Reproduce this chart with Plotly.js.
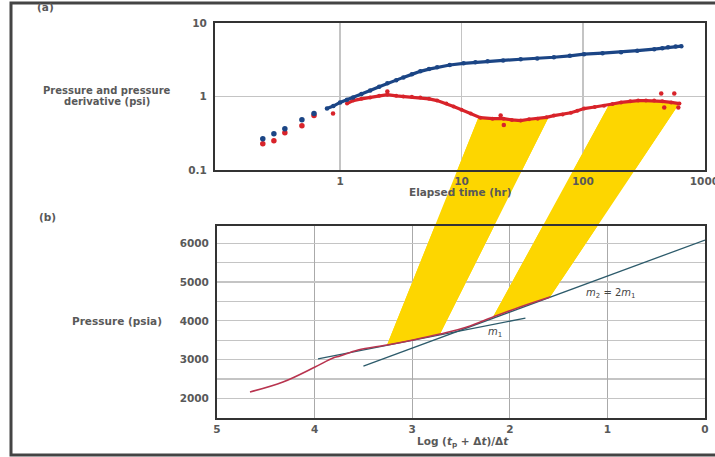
<!DOCTYPE html>
<html>
<head>
<meta charset="utf-8">
<script src="https://cdn.plot.ly/plotly-3.0.1.min.js"></script>
<style>html,body{margin:0;padding:0;background:#fff;}#chart{width:715px;height:457px;}</style>
</head>
<body>
<div id="chart"></div>
<script>
// ---------- DATA ----------
// (a) log-log diagnostic plot
const earlyTime = [0.231, 0.285, 0.351, 0.485, 0.61];
const earlyPressure = [0.266, 0.311, 0.365, 0.484, 0.585];
const earlyDerivative = [0.227, 0.25, 0.32, 0.40, 0.55];

const pressureTime = [0.78, 0.88, 1.0, 1.14, 1.28, 1.5, 1.77, 2.1, 2.45, 2.9, 3.32, 3.9, 4.58, 5.4, 6.3, 8.0, 10.4, 13, 16.4, 22, 30.7, 42, 57.6, 78, 102, 145, 206, 280, 386, 450, 502, 580, 646];
const pressureValue = [0.685, 0.74, 0.83, 0.9, 0.97, 1.08, 1.21, 1.36, 1.51, 1.67, 1.82, 2.0, 2.2, 2.36, 2.5, 2.68, 2.83, 2.93, 3.01, 3.1, 3.21, 3.3, 3.42, 3.58, 3.76, 3.88, 4.01, 4.2, 4.4, 4.55, 4.69, 4.8, 4.84];

const derivTime = [1.14, 1.28, 1.5, 1.77, 2.1, 2.45, 2.9, 3.32, 3.9, 4.58, 5.4, 6.3, 7.5, 8.6, 10, 11.9, 14.3, 18, 22.2, 26, 30.7, 36, 42.4, 50, 57.6, 68, 79.6, 90, 102, 125, 149, 175, 206, 245, 285, 330, 386, 450, 533, 623];
const derivValue = [0.80, 0.88, 0.93, 0.97, 1.02, 1.06, 1.02, 1.0, 0.99, 0.97, 0.93, 0.88, 0.80, 0.73, 0.66, 0.585, 0.515, 0.50, 0.50, 0.48, 0.47, 0.49, 0.50, 0.52, 0.55, 0.57, 0.60, 0.64, 0.685, 0.72, 0.75, 0.79, 0.83, 0.86, 0.88, 0.88, 0.88, 0.86, 0.83, 0.80];

const derivOutlierTime = [0.875, 2.45, 21, 22.3, 441, 565, 467, 610];
const derivOutlierValue = [0.585, 1.17, 0.55, 0.41, 1.1, 1.1, 0.707, 0.707];

// (b) Horner plot
const hornerX = [4.662, 4.324, 3.996, 3.811, 3.740, 3.555, 3.258, 2.992, 2.715, 2.439, 2.172, 1.895, 1.588];
const hornerP = [2163, 2421, 2808, 3040, 3092, 3246, 3375, 3505, 3659, 3840, 4098, 4356, 4614];
const m1X = [3.965, 1.84];
const m1P = [3017, 4072];
const m2X = [3.5, 0];
const m2P = [2830, 6085];

// band links (top: elapsed time range on derivative; bottom: Horner range)
const band1TopTime = [13.8, 52.4];
const band1TopDeriv = [0.52, 0.53];
const band1BottomX = [3.258, 2.715];
const band1BottomP = [3375, 3659];
const band2TopTime = [164, 621];
const band2TopDeriv = [0.77, 0.80];
const band2BottomX = [2.172, 1.588];
const band2BottomP = [4098, 4614];

// ticks
const topXTicks = [1, 10, 100, 1000];
const topXTickText = ['1', '10', '100', '1000'];
const topYTicks = [0.1, 1, 10];
const topYTickText = ['0.1', '1', '10'];
const botXTicks = [5, 4, 3, 2, 1, 0];
const botXTickText = ['5', '4', '3', '2', '1', '0'];
const botYTicks = [2000, 3000, 4000, 5000, 6000];
const botYTickText = ['2000', '3000', '4000', '5000', '6000'];

// ---------- STYLE ----------
const W = 715, H = 457;
const FONT = 'DejaVu Sans';
const txt = {family: FONT, size: 10.5, color: '#595959', weight: 'bold'};
const BLUE = '#1b4585', RED = '#d8232a', HRED = '#b8344f', LINE = '#2d5b6b', YEL = '#fdd600';

const xTop = {type: 'log', domain: [215 / W, 705 / W], range: [-1.03, 3.005], anchor: 'y',
  tickvals: topXTicks, ticktext: topXTickText, ticks: '', showgrid: true, gridcolor: '#c4c4c4', gridwidth: 1.2,
  showline: true, linecolor: '#333', linewidth: 2, mirror: true, zeroline: false, tickfont: txt, ticklabeloverflow: 'allow'};
const yTop = {type: 'log', domain: [1 - 170 / H, 1 - 23 / H], range: [-1, 1], anchor: 'x',
  tickvals: topYTicks, ticktext: topYTickText, ticks: '', showgrid: true, gridcolor: '#c4c4c4', gridwidth: 1.2,
  showline: true, linecolor: '#333', linewidth: 2, mirror: true, zeroline: false, tickfont: txt, ticklabelstandoff: 4};
const xBot = {domain: [217 / W, 705 / W], range: [5, 0], anchor: 'y2', autorange: false,
  tickvals: botXTicks, ticktext: botXTickText, ticks: '', showgrid: true, gridcolor: '#aaa', gridwidth: 1.2,
  showline: true, linecolor: '#333', linewidth: 2, mirror: true, zeroline: false, tickfont: txt, ticklabeloverflow: 'allow'};
const yBot = {domain: [1 - 418 / H, 1 - 226 / H], range: [1492, 6447], anchor: 'x2',
  tickvals: botYTicks, ticktext: botYTickText, ticks: '', showgrid: true, gridcolor: '#c4c4c4', gridwidth: 1.2,
  minor: {dtick: 500, tick0: 0, showgrid: true, gridcolor: '#c4c4c4', gridwidth: 1.2, ticks: ''},
  showline: true, linecolor: '#333', linewidth: 2, mirror: true, zeroline: false, tickfont: txt, ticklabelstandoff: 4};

function toPx(ax, v, isY) {
  const l = ax.type === 'log' ? Math.log10(v) : v;
  const f = (l - ax.range[0]) / (ax.range[1] - ax.range[0]);
  const p = ax.domain[0] + f * (ax.domain[1] - ax.domain[0]);
  return isY ? H * (1 - p) : W * p;
}
function fromPx(ax, px, isY) {
  const p = isY ? 1 - px / H : px / W;
  const f = (p - ax.domain[0]) / (ax.domain[1] - ax.domain[0]);
  const l = ax.range[0] + f * (ax.range[1] - ax.range[0]);
  return ax.type === 'log' ? Math.pow(10, l) : l;
}

function bandPolygon(topT, topP, botX, botP) {
  const pts = [];
  pts.push([toPx(xTop, topT[0]), toPx(yTop, topP[0], true)]);
  for (let i = 0; i < derivTime.length; i++) {
    if (derivTime[i] > topT[0] && derivTime[i] < topT[1]) pts.push([toPx(xTop, derivTime[i]), toPx(yTop, derivValue[i], true)]);
  }
  pts.push([toPx(xTop, topT[1]), toPx(yTop, topP[1], true)]);
  pts.push([toPx(xBot, botX[1]), toPx(yBot, botP[1], true)]);
  for (let i = 0; i < hornerX.length; i++) {
    if (hornerX[i] > botX[1] && hornerX[i] < botX[0]) pts.push([toPx(xBot, hornerX[i]), toPx(yBot, hornerP[i], true)]);
  }
  pts.push([toPx(xBot, botX[0]), toPx(yBot, botP[0], true)]);
  return pts;
}
const bands = [bandPolygon(band1TopTime, band1TopDeriv, band1BottomX, band1BottomP),
               bandPolygon(band2TopTime, band2TopDeriv, band2BottomX, band2BottomP)];

const traces = [];
const shapes = [];
bands.forEach(poly => {
  shapes.push({type: 'path', xref: 'paper', yref: 'paper', layer: 'below', fillcolor: YEL, line: {width: 0},
    path: 'M' + poly.map(p => (p[0] / W).toFixed(5) + ',' + (1 - p[1] / H).toFixed(5)).join('L') + 'Z'});
  traces.push({x: poly.map(p => fromPx(xTop, p[0])), y: poly.map(p => fromPx(yTop, p[1], true)), xaxis: 'x', yaxis: 'y',
    mode: 'lines', line: {width: 0}, fill: 'toself', fillcolor: YEL, hoverinfo: 'skip'});
  traces.push({x: poly.map(p => fromPx(xBot, p[0])), y: poly.map(p => fromPx(yBot, p[1], true)), xaxis: 'x2', yaxis: 'y2',
    mode: 'lines', line: {width: 0}, fill: 'toself', fillcolor: YEL, hoverinfo: 'skip'});
});

// top panel data
traces.push({x: earlyTime, y: earlyDerivative, xaxis: 'x', yaxis: 'y', mode: 'markers', marker: {color: RED, size: 5.5}});
traces.push({x: earlyTime, y: earlyPressure, xaxis: 'x', yaxis: 'y', mode: 'markers', marker: {color: BLUE, size: 5.5}});
traces.push({x: derivTime, y: derivValue, xaxis: 'x', yaxis: 'y', mode: 'lines+markers', line: {color: RED, width: 3.2}, marker: {color: RED, size: 4}});
traces.push({x: derivOutlierTime, y: derivOutlierValue, xaxis: 'x', yaxis: 'y', mode: 'markers', marker: {color: RED, size: 4.5}});
traces.push({x: pressureTime, y: pressureValue, xaxis: 'x', yaxis: 'y', mode: 'lines+markers', line: {color: BLUE, width: 3.2}, marker: {color: BLUE, size: 4.5}});

// bottom panel data
traces.push({x: m1X, y: m1P, xaxis: 'x2', yaxis: 'y2', mode: 'lines', line: {color: LINE, width: 1.3}});
traces.push({x: m2X, y: m2P, xaxis: 'x2', yaxis: 'y2', mode: 'lines', line: {color: LINE, width: 1.3}});
traces.push({x: hornerX, y: hornerP, xaxis: 'x2', yaxis: 'y2', mode: 'lines', line: {color: HRED, width: 1.6, shape: 'spline'}});

// frame
shapes.push({type: 'rect', xref: 'paper', yref: 'paper', x0: 11 / W, x1: 1.1, y0: 1 - 455 / H, y1: 1 - 3 / H,
  line: {color: '#444', width: 3}, layer: 'below'});

function ann(text, x, y, extra) {
  return Object.assign({text: text, xref: 'paper', yref: 'paper', x: x / W, y: 1 - y / H, xanchor: 'center', yanchor: 'middle',
    showarrow: false, font: txt}, extra || {});
}
const small = {family: FONT, size: 10, color: '#595959', weight: 'bold'};
const mfont = {family: FONT, size: 10, color: '#444', weight: 'normal'};
const annotations = [
  ann('(a)', 45, 7),
  ann('(b)', 47, 217),
  ann('Pressure and pressure', 107, 90, {font: small}),
  ann('derivative (psi)', 107, 101, {font: small}),
  ann('Elapsed time (hr)', 461, 192),
  ann('Pressure (psia)', 117, 321),
  ann('Log (<i>t</i><sub>p</sub> + Δ<i>t</i>)/Δ<i>t</i>', 463, 442),
  ann('<i>m</i><sub>1</sub>', 495, 332, {font: mfont}),
  ann('<i>m</i><sub>2</sub> = 2<i>m</i><sub>1</sub>', 611, 293, {font: mfont})
];

const layout = {
  width: W, height: H, margin: {l: 0, r: 0, t: 0, b: 0}, paper_bgcolor: '#fff', plot_bgcolor: '#fff',
  showlegend: false, font: txt,
  xaxis: xTop, yaxis: yTop, xaxis2: xBot, yaxis2: yBot,
  shapes: shapes, annotations: annotations
};
Plotly.newPlot('chart', traces, layout, {displayModeBar: false, staticPlot: true});
</script>
</body>
</html>
